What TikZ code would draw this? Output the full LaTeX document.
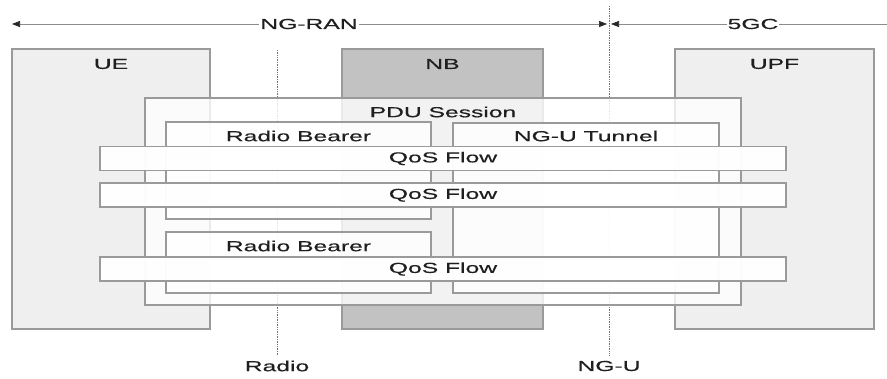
\documentclass[tikz,border=0pt]{standalone}
\usepackage{fontspec}
\setmainfont[FakeStretch=1.7,FakeBold=0.4]{Liberation Sans}
\usepackage{tikz}
\usetikzlibrary{arrows.meta, positioning}
\definecolor{edge}{HTML}{9A9A9A}
\definecolor{ent}{HTML}{EFEFEF}
\definecolor{nbfill}{HTML}{C2C2C2}
\tikzset{
  entity/.style  ={draw=edge, line width=1.1pt, fill=ent, inner sep=0pt},
  nbbox/.style   ={entity, fill=nbfill},
  layer/.style   ={draw=edge, line width=1.1pt, fill=white, fill opacity=0.8, inner sep=0pt},
  qos/.style     ={draw=edge, line width=1.1pt, fill=white, fill opacity=0.97, inner sep=0pt},
  lbl/.style     ={font=\fontsize{14.5}{16}\selectfont, text=black!88, inner sep=0pt, anchor=center},
  iface/.style   ={draw=black!55, line width=0.7pt, densely dotted},
  span/.style    ={draw=black!45, line width=0.7pt, {Triangle[length=8pt,width=6pt,black!85]}-{Triangle[length=8pt,width=6pt,black!85]}},
  spanl/.style   ={draw=black!45, line width=0.7pt, {Triangle[length=8pt,width=6pt,black!85]}-},
}
\begin{document}
\begin{tikzpicture}[x=1pt, y=-1pt]
  \useasboundingbox (0,0) rectangle (887,378);
  % network entities
  \node[entity, minimum width=198pt, minimum height=280pt] (ue)  at (111,189)   {};
  \node[nbbox,  minimum width=201pt, minimum height=280pt] (nb)  at (442.5,189) {};
  \node[entity, minimum width=199pt, minimum height=280pt] (upf) at (774.5,189) {};
  \node[lbl] at (111,64)   {UE};
  \node[lbl] at (442.5,64) {NB};
  \node[lbl] at (774.5,64) {UPF};
  % interfaces
  \coordinate (radtop) at (277,50);
  \coordinate (radbot) at (277,355);
  \coordinate (ngutop) at (609,6);
  \coordinate (ngubot) at (609,355);
  \draw[iface] (radtop) -- (radbot);
  \draw[iface] (ngutop) -- (ngubot);
  \node[lbl] (radio) at (277,366) {Radio};
  \node[lbl] (ngu)   at (609,366) {NG-U};
  % domains
  \coordinate (ranl) at (12,24);
  \coordinate (ranr) at (607,24);
  \coordinate (cnl)  at (611,24);
  \coordinate (cnr)  at (887,24);
  \draw[span]  (ranl) -- (ranr);
  \draw[spanl] (cnl) -- (cnr);
  \node[lbl, fill=white, inner xsep=1pt] (ran) at (309,24) {NG-RAN};
  \node[lbl, fill=white, inner xsep=1pt] (cn)  at (753,24) {5GC};
  % PDU session
  \node[layer, minimum width=596pt, minimum height=207pt] (pdu) at (443,201.5) {};
  \node[lbl] at (443,112) {PDU Session};
  \node[layer, minimum width=265pt, minimum height=97pt]  (rb1) at (298.5,170.5) {};
  \node[layer, minimum width=266pt, minimum height=170pt] (tun) at (586,208)     {};
  \node[layer, minimum width=265pt, minimum height=61pt]  (rb2) at (298.5,262.5) {};
  \node[lbl] at (298.5,136) {Radio Bearer};
  \node[lbl] at (586,136)   {NG-U Tunnel};
  \node[lbl] at (298.5,246) {Radio Bearer};
  % flows
  \foreach \y/\n in {158.5/1, 195/2, 269/3} {
    \node[qos, minimum width=686pt, minimum height=24pt] (qf\n) at (443,\y) {};
    \node[lbl] at (qf\n) {QoS Flow};
  }
\end{tikzpicture}
\end{document}
